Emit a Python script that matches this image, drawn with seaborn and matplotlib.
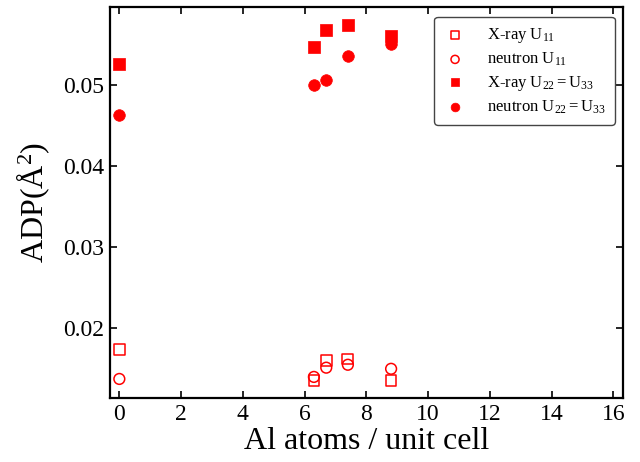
import matplotlib
matplotlib.use("Agg")
import matplotlib.pyplot as plt
import seaborn as sns
import pandas as pd

# Al content per unit cell
al_atoms = [0.0, 6.3, 6.7, 7.4, 8.8]

# Atomic displacement parameters (Å^2)
xray_u11 = [0.01741, 0.01359, 0.0160, 0.0162, 0.01359]
neutron_u11 = [0.01375, 0.0140, 0.01514, 0.0155, 0.0150]
xray_u22 = [0.0526, 0.05465, 0.05674, 0.05736, 0.0560]
neutron_u22 = [0.04622, 0.04996, 0.05065, 0.05358, 0.05497]

x_ticks = [0, 2, 4, 6, 8, 10, 12, 14, 16]
y_ticks = [0.02, 0.03, 0.04, 0.05]

sns.set_theme(style="ticks")
plt.rcParams["font.family"] = ["Liberation Serif", "DejaVu Serif"]
plt.rcParams["mathtext.fontset"] = "custom"
plt.rcParams["mathtext.rm"] = "Liberation Serif"
plt.rcParams["mathtext.it"] = "Liberation Serif:italic"
plt.rcParams["mathtext.bf"] = "Liberation Serif:bold"
plt.rcParams["text.color"] = "black"
plt.rcParams["axes.labelcolor"] = "black"

fig = plt.figure(figsize=(6.4, 4.62), dpi=100)
ax = fig.add_axes([0.172, 0.1385, 0.801, 0.8465])

series = [
    (xray_u11, "X-ray U$_{11}$", "s", False),
    (neutron_u11, "neutron U$_{11}$", "o", False),
    (xray_u22, "X-ray U$_{22}$$=$U$_{33}$", "s", True),
    (neutron_u22, "neutron U$_{22}$$=$U$_{33}$", "o", True),
]

for vals, label, marker, filled in series:
    df = pd.DataFrame({"al": al_atoms, "adp": vals})
    if filled:
        sns.scatterplot(data=df, x="al", y="adp", ax=ax, marker=marker,
                        s=70, color="red", edgecolor="red", linewidth=0.5,
                        label=label, zorder=3)
    else:
        sns.scatterplot(data=df, x="al", y="adp", ax=ax, marker=marker,
                        s=60, facecolor="none", edgecolor="red",
                        linewidth=1.1, label=label, zorder=3)

ax.set_xlim(-0.3, 16.3)
ax.set_ylim(0.0114, 0.0596)
ax.set_xticks(x_ticks)
ax.set_yticks(y_ticks)
ax.set_xticklabels([str(t) for t in x_ticks])
ax.set_yticklabels([f"{t:.2f}" for t in y_ticks])

ax.tick_params(direction="in", top=True, right=True, length=5, width=1.2,
               labelsize=17, colors="black", labelcolor="black", pad=4)
for sp in ax.spines.values():
    sp.set_linewidth(1.6)
    sp.set_color("black")

ax.set_xlabel("Al atoms / unit cell", fontsize=23, labelpad=2, color="black")
ax.set_ylabel("ADP($\\mathrm{\\AA}^2$)", fontsize=23, labelpad=8, color="black")

leg = ax.legend(loc="upper right", fontsize=12, frameon=True,
                fancybox=True, edgecolor="#444444", framealpha=1,
                borderpad=0.55, labelspacing=0.33, handlelength=1.4,
                handletextpad=1.2, markerscale=0.75, borderaxespad=0,
                bbox_to_anchor=(0.984, 0.974))
leg.get_frame().set_linewidth(1.0)
for t in leg.get_texts():
    t.set_color("black")

fig.savefig("out.png", dpi=100)
